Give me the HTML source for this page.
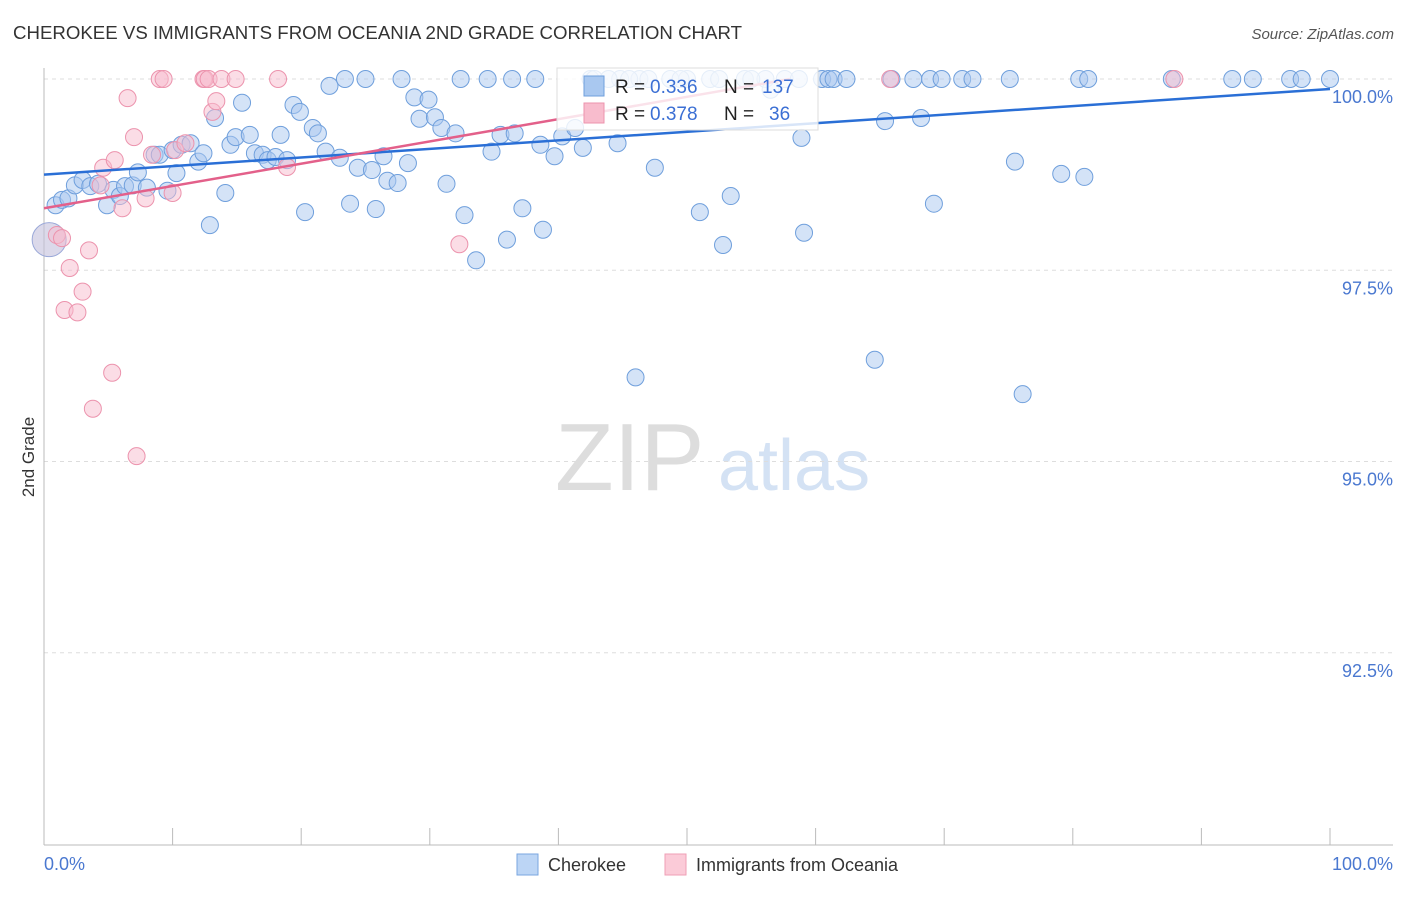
<!DOCTYPE html>
<html><head><meta charset="utf-8"><style>
body{margin:0;background:#fff;font-family:"Liberation Sans",sans-serif}
svg text{font-family:"Liberation Sans",sans-serif}
</style></head><body>
<svg id="chart" width="1406" height="892" viewBox="0 0 1406 892" xmlns="http://www.w3.org/2000/svg">
<text x="13" y="39" font-size="18" fill="#333" textLength="729" lengthAdjust="spacingAndGlyphs">CHEROKEE VS IMMIGRANTS FROM OCEANIA 2ND GRADE CORRELATION CHART</text>
<text x="1394" y="39" font-size="15" fill="#555" text-anchor="end" font-style="italic">Source: ZipAtlas.com</text>
<text transform="translate(34,457) rotate(-90)" font-size="17" fill="#333" text-anchor="middle">2nd Grade</text>
<g><text x="555" y="490" font-size="96" fill="#ddd" font-family="Liberation Serif">ZIP</text><text x="718" y="490" font-size="72" fill="#d4e2f4">atlas</text></g>
<g id="grid"></g><g id="pts"></g><g id="lines"></g>
<g>
<rect x="557" y="68" width="261" height="62" fill="#fff" fill-opacity="0.82" stroke="#ddd"/>
<rect x="584" y="76" width="20" height="20" fill="#a9c8f0" stroke="#6f9fdc"/>
<rect x="584" y="103" width="20" height="20" fill="#f8bccd" stroke="#ec93ad"/>
<text x="615" y="93" font-size="19" fill="#222">R =</text><text x="650" y="93" font-size="19" fill="#3b6fd4">0.336</text>
<text x="724" y="93" font-size="19" fill="#222">N =</text><text x="762" y="93" font-size="19" fill="#3b6fd4">137</text>
<text x="615" y="120" font-size="19" fill="#222">R =</text><text x="650" y="120" font-size="19" fill="#3b6fd4">0.378</text>
<text x="724" y="120" font-size="19" fill="#222">N =</text><text x="769" y="120" font-size="19" fill="#3b6fd4">36</text>
</g>
<g>
<rect x="517" y="854" width="21" height="21" fill="#bcd5f5" stroke="#7aa6e0"/>
<text x="548" y="871" font-size="18" fill="#333">Cherokee</text>
<rect x="665" y="854" width="21" height="21" fill="#fbcbd8" stroke="#ef9fb6"/>
<text x="696" y="871" font-size="18" fill="#333">Immigrants from Oceania</text>
</g>
</svg>
<script>
const xTicks=["0.0%","100.0%"];
const yTicks=[100,97.5,95,92.5];
const yTickLabels=["100.0%","97.5%","95.0%","92.5%"];
const blueX=[0.9,1.4,1.9,2.4,3.0,3.6,4.2,4.9,5.4,5.9,6.3,6.9,7.3,8.0,8.6,9.0,9.6,10.0,10.3,10.7,11.4,12.0,12.4,12.9,13.3,14.1,14.5,14.9,15.4,16.0,16.4,17.0,17.4,18.0,18.4,18.9,19.4,19.9,20.3,20.9,21.3,21.9,22.2,23.0,23.4,23.8,24.4,25.0,25.5,25.8,26.4,26.7,27.5,27.8,28.3,28.8,29.2,29.9,30.4,30.9,31.3,32.0,32.4,32.7,33.6,34.5,34.8,35.5,36.0,36.4,36.6,37.2,38.2,38.6,38.8,39.7,40.3,41.3,41.9,42.5,44.6,46.0,47.5,51.0,52.8,53.4,56.1,58.9,59.1,60.5,61.0,61.4,62.4,64.6,65.4,65.9,67.6,68.2,68.9,69.2,69.8,71.4,72.2,75.1,75.5,76.1,79.1,80.5,80.9,81.2,87.7,92.4,94.0,96.9,97.8,100,42.8,44.8,46.3,51.8,56.5,43.9,45.5,47.0,48.7,50.0,52.5,54.5,57.6,58.7,55.0,49.5];
const blueY=[98.35,98.42,98.44,98.61,98.68,98.60,98.63,98.35,98.55,98.47,98.60,98.61,98.78,98.58,99.01,99.01,98.54,99.07,98.77,99.14,99.16,98.92,99.03,98.09,99.49,98.51,99.14,99.24,99.69,99.27,99.03,99.01,98.94,98.98,99.27,98.94,99.66,99.57,98.26,99.36,99.29,99.05,99.91,98.97,100,98.37,98.84,100,98.81,98.30,98.99,98.67,98.64,100,98.90,99.76,99.48,99.73,99.50,99.36,98.63,99.29,100,98.22,97.63,100,99.05,99.27,97.90,100,99.29,98.31,100,99.14,98.03,98.99,99.25,99.36,99.10,100,99.16,96.10,98.84,98.26,97.83,98.47,100,99.23,97.99,100,100,100,100,96.33,99.45,100,100,99.49,100,98.37,100,100,100,100,98.92,95.88,98.76,100,98.72,100,100,100,100,100,100,100,100,100,100,100,99.86,100,100,100,100,100,100,100,100,100,100,100];
const pinkX=[1.0,1.4,2.0,1.6,2.6,3.0,3.5,3.8,4.4,4.6,5.5,6.1,6.5,7.0,7.2,5.3,7.9,8.4,9.0,9.3,10.0,10.2,11.0,12.4,12.5,12.8,13.1,13.4,13.8,14.9,18.2,18.9,32.3,65.8,87.9];
const pinkY=[97.96,97.92,97.53,96.98,96.95,97.22,97.76,95.69,98.61,98.84,98.94,98.31,99.75,99.24,95.07,96.16,98.44,99.01,100,100,98.51,99.07,99.16,100,100,100,99.57,99.71,100,100,100,98.85,97.84,100,100];
const bigPoint=[0.4,97.9];
const blueTrend=[[0,98.75],[100,99.87]];
const pinkTrend=[[0,98.31],[58,100.0]];
const X=v=>44+v*12.86, Y=v=>79+(100-v)*76.5;
const NS="http://www.w3.org/2000/svg";
function mk(p,t,a){const e=document.createElementNS(NS,t);for(const k in a)e.setAttribute(k,a[k]);p.appendChild(e);return e;}
const g=document.getElementById('grid');
yTicks.forEach((v,i)=>{
 const l=mk(g,'line',{x1:44,x2:1393,y1:Y(v),y2:Y(v),stroke:'#ddd','stroke-dasharray':'4,4'});
 
 
 const t=mk(g,'text',{x:1393,y:Y(v)+24,'font-size':18,fill:'#4a78d0','text-anchor':'end'});t.textContent=yTickLabels[i];
 
 
});
const ax=mk(g,'line',{x1:44,x2:44,y1:68,y2:845,stroke:'#bbb'});


const bx=mk(g,'line',{x1:44,x2:1393,y1:845,y2:845,stroke:'#bbb'});


for(let i=0;i<=10;i++){const tk=mk(g,'line',{x1:X(i*10),x2:X(i*10),y1:828,y2:845,stroke:'#bbb'});
 
 }
[[0,'start',44],[1,'end',1393]].forEach(([i,a,x])=>{const t=mk(g,'text',{x:x,y:870,'font-size':18,fill:'#4a78d0','text-anchor':a});t.textContent=xTicks[i];
 
 });
const P=document.getElementById('pts');
const bp=mk(P,'circle',{cx:X(bigPoint[0]),cy:Y(bigPoint[1]),r:17,fill:'#c3bfdc','fill-opacity':0.6,stroke:'#9aa8d8'});


blueX.forEach((x,i)=>{const c=mk(P,'circle',{cx:X(x),cy:Y(blueY[i]),r:8.5,fill:'#a9c8f0','fill-opacity':0.5,stroke:'#6f9fdc','stroke-width':1});
 
 });
pinkX.forEach((x,i)=>{const c=mk(P,'circle',{cx:X(x),cy:Y(pinkY[i]),r:8.5,fill:'#f8bccd','fill-opacity':0.5,stroke:'#ec93ad','stroke-width':1});
 
 });
const L=document.getElementById('lines');
const bl=mk(L,'line',{x1:X(blueTrend[0][0]),y1:Y(blueTrend[0][1]),x2:X(blueTrend[1][0]),y2:Y(blueTrend[1][1]),stroke:'#2a6fd6','stroke-width':2.5});


const pl=mk(L,'line',{x1:X(pinkTrend[0][0]),y1:Y(pinkTrend[0][1]),x2:X(pinkTrend[1][0]),y2:Y(pinkTrend[1][1]),stroke:'#e3608a','stroke-width':2.5});


</script>
</body></html>
